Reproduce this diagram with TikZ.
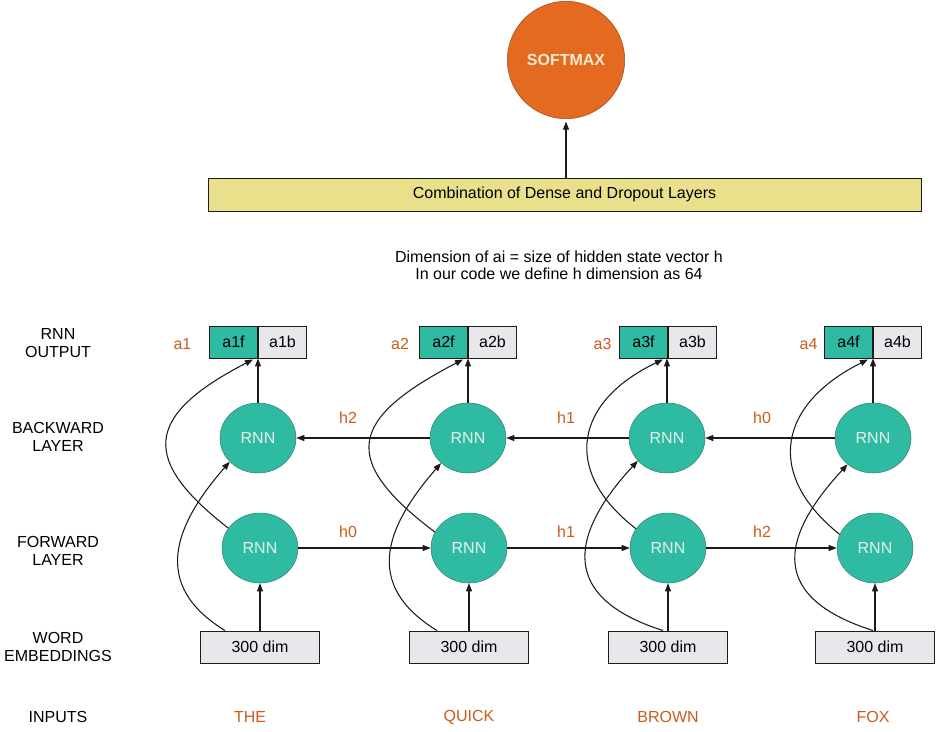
\documentclass[tikz,border=0pt]{standalone}
\usepackage{fontspec}
\setmainfont{Liberation Sans}
\usetikzlibrary{shapes.geometric,arrows.meta,calc}
\definecolor{rnnteal}{HTML}{2EBBA2}
\definecolor{rnnedge}{HTML}{3A7F72}
\definecolor{softorange}{HTML}{E46A22}
\definecolor{baryellow}{HTML}{E8E08A}
\definecolor{boxgray}{HTML}{E8E8EC}
\definecolor{labelorange}{HTML}{CC5A1A}
\definecolor{nodetext}{HTML}{E6F2EC}
\definecolor{softtext}{HTML}{F7EBCD}
\definecolor{inkline}{HTML}{1E1A1A}
\begin{document}
\begin{tikzpicture}[x=0.75pt,y=-0.75pt,
  every node/.style={font=\fontsize{12}{13.5}\selectfont, inner sep=0pt},
  arr/.style={-{Triangle[length=6pt,width=4.5pt]}, line width=0.8pt, draw=inkline},
  rnn/.style={ellipse, fill=rnnteal, draw=rnnedge, line width=0.4pt, minimum width=57pt, minimum height=52.5pt, text=nodetext},
  softmax/.style={circle, fill=softorange, draw=softorange!70!black, line width=0.4pt, minimum size=88pt, text=softtext, font=\fontsize{12}{13.5}\selectfont\bfseries},
  bar/.style={rectangle, draw=inkline, line width=0.7pt, fill=baryellow, minimum width=534.75pt, minimum height=24.75pt},
  outf/.style={rectangle, draw=inkline, line width=0.7pt, fill=rnnteal, minimum width=36pt, minimum height=24pt},
  outb/.style={rectangle, draw=inkline, line width=0.7pt, fill=boxgray, minimum width=36pt, minimum height=24pt},
  emb/.style={rectangle, draw=inkline, line width=0.7pt, fill=boxgray, minimum width=89.5pt, minimum height=24pt},
  lab/.style={text=labelorange},
  side/.style={align=center, text=black},
  note/.style={align=center, font=\fontsize{12}{13}\selectfont}
]
\useasboundingbox (0,0) rectangle (936,732);

% top part
\node[softmax] (sm) at (566,60) {SOFTMAX};
\node[bar] (bar) at (564.5,194.5) {Combination of Dense and Dropout Layers};
\draw[arr, shorten >=2pt] (bar.north -| sm) -- (sm.south);
\node[note] (dim) at (559,265.5) {Dimension of ai = size of hidden state vector h\\In our code we define h dimension as 64};

% left labels
\node[side] (lo) at (58,343) {RNN\\OUTPUT};
\node[side] (lb) at (58,436.5) {BACKWARD\\LAYER};
\node[side] (lf) at (58,551) {FORWARD\\LAYER};
\node[side] (le) at (58,647) {WORD\\EMBEDDINGS};
\node[side] (li) at (58,717) {INPUTS};

% outputs
\node[outf, anchor=east] (o1f) at (258,342) {a1f};
\node[outb, anchor=west] (o1b) at (258,342) {a1b};
\node[outf, anchor=east] (o2f) at (468,342) {a2f};
\node[outb, anchor=west] (o2b) at (468,342) {a2b};
\node[outf, anchor=east] (o3f) at (668,342) {a3f};
\node[outb, anchor=west] (o3b) at (668,342) {a3b};
\node[outf, anchor=east] (o4f) at (873,342) {a4f};
\node[outb, anchor=west] (o4b) at (873,342) {a4b};
\node[lab] (a1) at (182.5,344) {a1};
\node[lab] (a2) at (400,344) {a2};
\node[lab] (a3) at (602.5,344) {a3};
\node[lab] (a4) at (808.5,344) {a4};

% backward layer
\node[rnn] (b1) at (258,438) {RNN};
\node[rnn] (b2) at (468,438) {RNN};
\node[rnn] (b3) at (667,438) {RNN};
\node[rnn] (b4) at (873,438) {RNN};

% forward layer
\node[rnn] (f1) at (260,548) {RNN};
\node[rnn] (f2) at (469,548) {RNN};
\node[rnn] (f3) at (668,548) {RNN};
\node[rnn] (f4) at (875,548) {RNN};

% embeddings
\node[emb] (e1) at (260,647) {300 dim};
\node[emb] (e2) at (469,647) {300 dim};
\node[emb] (e3) at (668,647) {300 dim};
\node[emb] (e4) at (875,647) {300 dim};

% inputs
\node[lab] (i1) at (250,717) {THE};
\node[lab] (i2) at (469,717) {QUICK};
\node[lab] (i3) at (668,717) {BROWN};
\node[lab] (i4) at (873,717) {FOX};

% hidden state labels
\node[lab] (hb1) at (348,418) {h2};
\node[lab] (hb2) at (566,418) {h1};
\node[lab] (hb3) at (762,418) {h0};
\node[lab] (hf1) at (348,532) {h0};
\node[lab] (hf2) at (566,532) {h1};
\node[lab] (hf3) at (762,532) {h2};

% vertical arrows
\foreach \i in {1,2,3,4}{
  \draw[arr] (e\i.north) -- (f\i.south);
  \draw[arr] (b\i.north) -- (b\i.north |- o\i f.south);
}

% horizontal arrows
\draw[arr] (f1.east) -- (f2.west);
\draw[arr] (f2.east) -- (f3.west);
\draw[arr] (f3.east) -- (f4.west);
\draw[arr] (b2.west) -- (b1.east);
\draw[arr] (b3.west) -- (b2.east);
\draw[arr] (b4.west) -- (b3.east);

% curved arrows: embedding -> backward
\draw[arr] ($(e1.north)+(-35,0)$) .. controls +(-75,-46) and +(-55,63) .. (b1.220);
\draw[arr] ($(e2.north)+(-32,0)$) .. controls +(-75,-46) and +(-55,63) .. (b2.223);
\draw[arr] ($(e3.north)+(-5,0)$) .. controls +(-113,-36) and +(-60,65) .. (b3.218);
\draw[arr] ($(e4.north)+(-2,0)$) .. controls +(-113,-36) and +(-60,65) .. (b4.226);

% curved arrows: forward -> output
\draw[arr] (f1.148) .. controls +(-87,-68) and +(-110,57) .. ($(o1f.south east)+(-5,1)$);
\draw[arr] (f2.155) .. controls +(-95,-72) and +(-115,60) .. ($(o2f.south east)+(-5,1)$);
\draw[arr] (f3.149) .. controls +(-75,-58) and +(-88,42) .. ($(o3f.south east)+(-5,1)$);
\draw[arr] (f4.159) .. controls +(-75,-60) and +(-90,45) .. ($(o4f.south east)+(-5,1)$);

\end{tikzpicture}
\end{document}
